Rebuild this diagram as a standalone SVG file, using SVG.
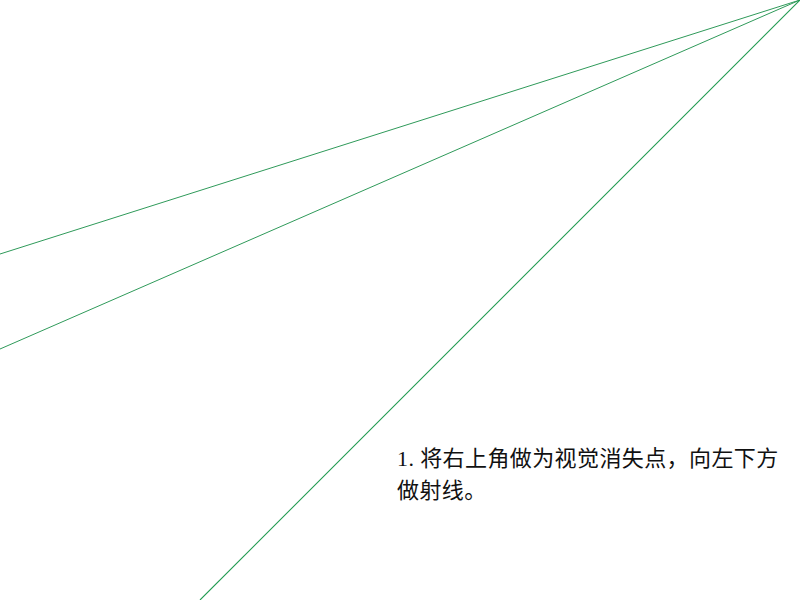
<svg xmlns="http://www.w3.org/2000/svg" width="800" height="600" viewBox="0 0 800 600">
<style>
.ray{stroke:#2f9a5a;stroke-width:1;fill:none}
.t{font-family:"Liberation Serif","Noto Sans CJK SC",serif;font-size:22px;fill:#111;letter-spacing:0.4px}
</style>
<rect width="800" height="600" fill="#fff"/>
<g id="connectors">
<line class="ray" x1="800" y1="0" x2="0" y2="254"/>
<line class="ray" x1="800" y1="0" x2="0" y2="349"/>
<line class="ray" x1="800" y1="0" x2="200" y2="600" style="stroke:#1f9a50;stroke-width:1.1"/>
</g>
<g id="caption">
<text class="t" x="397" y="466">1. 将右上角做为视觉消失点，向左下方</text>
<text class="t" x="397" y="498">做射线。</text>
</g>
</svg>
